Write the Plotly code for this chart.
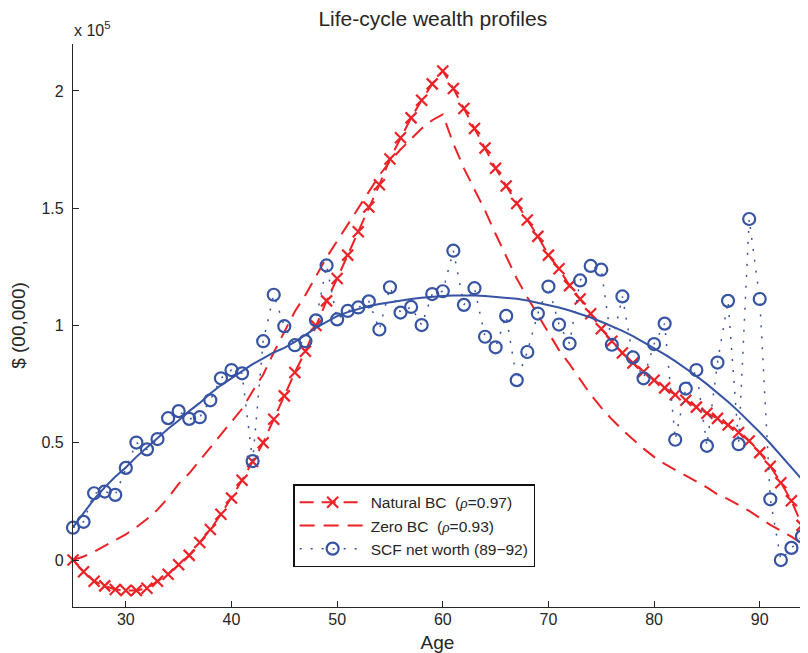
import plotly.graph_objects as go

ages = list(range(25, 95))

natural_bc = [0.00, -0.05, -0.09, -0.11, -0.125, -0.13, -0.13, -0.12, -0.09, -0.06,
              -0.02, 0.02, 0.075, 0.13, 0.195, 0.265, 0.34, 0.42, 0.50, 0.60,
              0.70, 0.80, 0.89, 1.00, 1.105, 1.20, 1.30, 1.40, 1.505, 1.60,
              1.71, 1.80, 1.885, 1.96, 2.03, 2.085, 2.01, 1.925, 1.84, 1.757,
              1.67, 1.595, 1.52, 1.45, 1.38, 1.30, 1.242, 1.17, 1.113, 1.05,
              0.986, 0.933, 0.883, 0.84, 0.803, 0.767, 0.734, 0.705, 0.681, 0.652,
              0.626, 0.604, 0.576, 0.544, 0.508, 0.458, 0.40, 0.33, 0.253, 0.148]

zero_bc = [0.00, 0.015, 0.035, 0.06, 0.085, 0.11, 0.14, 0.175, 0.215, 0.265,
           0.325, 0.37, 0.425, 0.48, 0.535, 0.59, 0.645, 0.72, 0.79, 0.885,
           0.975, 1.06, 1.13, 1.21, 1.29, 1.36, 1.43, 1.50, 1.57, 1.64,
           1.70, 1.75, 1.795, 1.84, 1.875, 1.90, 1.775, 1.67, 1.58, 1.49,
           1.39, 1.295, 1.20, 1.12, 1.045, 0.965, 0.895, 0.835, 0.77, 0.705,
           0.65, 0.60, 0.555, 0.515, 0.475, 0.44, 0.41, 0.385, 0.36, 0.335,
           0.31, 0.28, 0.26, 0.235, 0.21, 0.18, 0.15, 0.125, 0.10, 0.07]

scf_net_worth = [0.138, 0.163, 0.285, 0.292, 0.278, 0.393, 0.501, 0.472, 0.516, 0.605,
                 0.635, 0.602, 0.609, 0.681, 0.775, 0.81, 0.796, 0.422, 0.933, 1.131,
                 0.997, 0.916, 0.933, 1.022, 1.256, 1.026, 1.062, 1.077, 1.103, 0.983,
                 1.163, 1.055, 1.079, 1.002, 1.134, 1.146, 1.319, 1.088, 1.159, 0.952,
                 0.907, 1.041, 0.767, 0.887, 1.051, 1.166, 1.004, 0.923, 1.192, 1.254,
                 1.238, 0.918, 1.124, 0.864, 0.775, 0.921, 1.008, 0.513, 0.731, 0.81,
                 0.487, 0.842, 1.105, 0.494, 1.454, 1.113, 0.259, 0.0, 0.052, 0.101]

scf_fit = [0.14, 0.20, 0.26, 0.31, 0.355, 0.395, 0.44, 0.48, 0.52, 0.56,
           0.595, 0.635, 0.67, 0.71, 0.745, 0.775, 0.805, 0.835, 0.86, 0.885,
           0.905, 0.93, 0.96, 0.99, 1.015, 1.04, 1.057, 1.07, 1.083, 1.092,
           1.10, 1.107, 1.113, 1.118, 1.123, 1.126, 1.128, 1.129, 1.128, 1.126,
           1.123, 1.119, 1.114, 1.107, 1.098, 1.088, 1.077, 1.064, 1.05, 1.034,
           1.016, 0.997, 0.977, 0.955, 0.93, 0.905, 0.877, 0.848, 0.817, 0.785,
           0.75, 0.713, 0.675, 0.634, 0.59, 0.545, 0.497, 0.447, 0.395, 0.343]

x_ticks = [30, 40, 50, 60, 70, 80, 90]
y_ticks = [0, 0.5, 1, 1.5, 2]
y_tick_labels = ["0", "0.5", "1", "1.5", "2"]

RED = "#ec2227"
BLUE = "#3653a4"
AXC = "#262626"
FONT = "Liberation Sans, Arial, sans-serif"
RHO = '<span style="font-family:Liberation Serif, serif"><i>ρ</i></span>'

fig = go.Figure()

fig.add_trace(go.Scatter(
    x=ages, y=natural_bc, mode="lines+markers",
    name=f"Natural BC  ({RHO}=0.97)",
    line=dict(color=RED, width=2, dash="14px,8px"),
    marker=dict(symbol="x-thin-open", size=11, line=dict(color=RED, width=2.2), color=RED),
    cliponaxis=False,
))
fig.add_trace(go.Scatter(
    x=ages, y=zero_bc, mode="lines",
    name=f"Zero BC  ({RHO}=0.93)",
    line=dict(color=RED, width=2, dash="15px,9px"),
    cliponaxis=False,
))
fig.add_trace(go.Scatter(
    x=ages, y=scf_net_worth, mode="lines+markers",
    name="SCF net worth (89−92)",
    line=dict(color=BLUE, width=1.5, dash="2px,9px"),
    marker=dict(symbol="circle-open", size=12, line=dict(color=BLUE, width=2.2), color=BLUE),
    cliponaxis=False,
))
fig.add_trace(go.Scatter(
    x=ages, y=scf_fit, mode="lines",
    showlegend=False,
    line=dict(color=BLUE, width=2),
    cliponaxis=False,
))

# page body has an 8px default margin; the figure is sized to compensate
fig.update_layout(
    width=800, height=645,
    margin=dict(l=65, r=6, t=36, b=46, autoexpand=False),
    paper_bgcolor="white", plot_bgcolor="white",
    font=dict(family=FONT, color=AXC, size=16),
    title=dict(text="Life-cycle wealth profiles", x=0.531, xanchor="center",
               y=0.984, yanchor="middle", font=dict(size=21, family=FONT, color=AXC)),
    xaxis=dict(range=[25, 94], tickvals=x_ticks, ticks="inside", ticklen=6, tickwidth=1,
               tickcolor=AXC, showline=True, linecolor=AXC, linewidth=1.2,
               mirror=False, showgrid=False, zeroline=False, ticklabelstandoff=-2,
               tickfont=dict(size=16), title=dict(text="Age", font=dict(size=19), standoff=12)),
    yaxis=dict(range=[-0.2, 2.2], tickvals=y_ticks, ticktext=y_tick_labels, ticks="inside",
               ticklen=6, tickwidth=1, tickcolor=AXC, showline=True, linecolor=AXC,
               linewidth=1.2, mirror=False, showgrid=False, zeroline=False, ticklabelstandoff=5,
               tickfont=dict(size=16), title=dict(text="$ (00,000)", font=dict(size=19), standoff=12)),
    legend=dict(x=0.302, y=0.218, xanchor="left", yanchor="top",
                bordercolor="#111", borderwidth=1.5, bgcolor="white",
                font=dict(size=15.5, family=FONT, color=AXC),
                itemwidth=66, tracegroupgap=0),
    showlegend=True,
)

fig.add_annotation(text="x 10<sup>5</sup>", xref="paper", yref="paper",
                   x=-0.001, y=1.0, xanchor="left", yanchor="bottom", yshift=3,
                   showarrow=False, font=dict(size=16, family=FONT, color=AXC))

fig.write_html("out.html")
